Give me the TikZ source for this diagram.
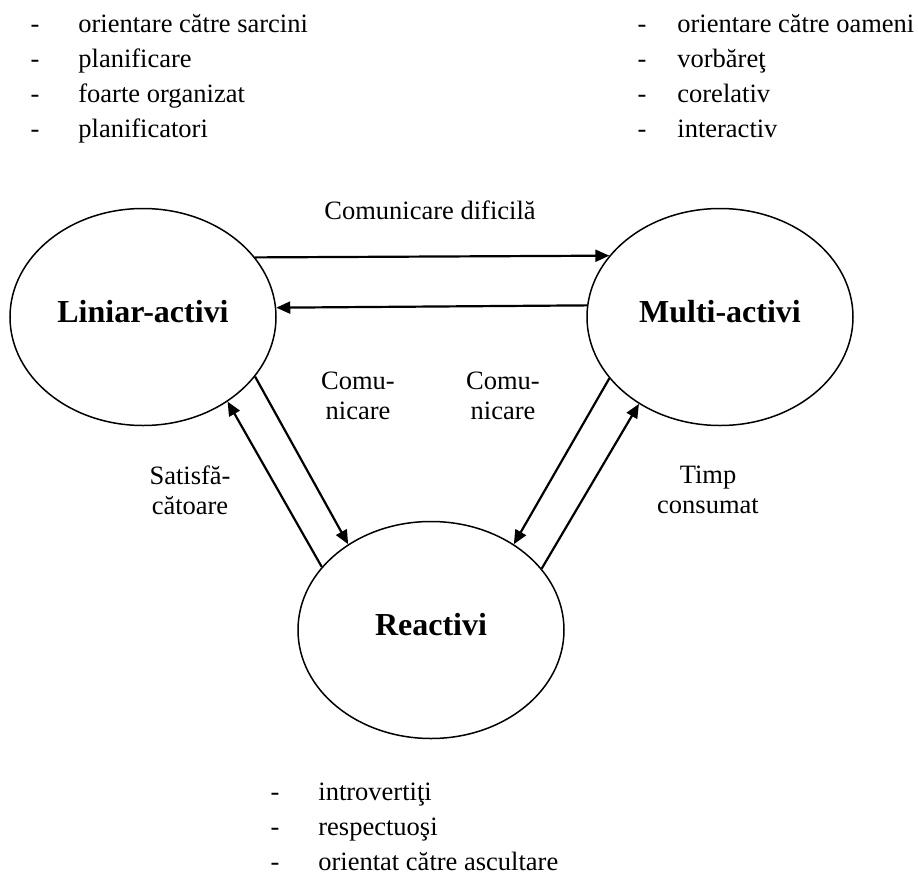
\documentclass[tikz,border=0pt]{standalone}
\usepackage{fontspec}
\setmainfont{Liberation Serif}
\usetikzlibrary{shapes.geometric,arrows.meta}

\tikzset{
	grup/.style={ellipse,draw,line width=0.75pt,minimum width=133pt,minimum height=108.5pt,inner sep=0pt,text height=11pt,text depth=6pt,font=\bfseries\fontsize{16}{19}\selectfont},
	sageata/.style={-{Triangle[length=7pt,width=6pt]},line width=1.1pt},
	eticheta/.style={align=center,font=\fontsize{13.25}{15}\selectfont},
	liniuta/.style={anchor=base,inner sep=0pt,font=\fontsize{13.25}{15}\selectfont},
	trasatura/.style={anchor=base west,inner sep=0pt,font=\fontsize{13.25}{15}\selectfont}
}

\begin{document}
\begin{tikzpicture}[x=0.5pt,y=-0.5pt]
					\useasboundingbox (0,0) rectangle (918,874);
					% cele trei grupuri
					\node[grup] (la) at (143,317) {Liniar-activi};
					\node[grup] (ma) at (720,317) {Multi-activi};
					\node[grup] (re) at (431,630) {Reactivi};
					% trasaturi
					\foreach \t [count=\i] in {orientare către sarcini,planificare,foarte organizat,planificatori}
					\node[liniuta] (dl\i) at (35,{-3+35*\i}) {-} node[trasatura] (tl\i) at (78,{-3+35*\i}) {\t};
					\foreach \t [count=\i] in {orientare către oameni,vorbăreţ,corelativ,interactiv}
					\node[liniuta] (dm\i) at (642,{-3+35*\i}) {-} node[trasatura] (tm\i) at (677,{-3+35*\i}) {\t};
					\foreach \t [count=\i] in {introvertiţi,respectuoşi,orientat către ascultare}
					\node[liniuta] (dr\i) at (275,{765+35*\i}) {-} node[trasatura] (tr\i) at (318,{765+35*\i}) {\t};
					% legaturi
					\draw[sageata] (la.28.4) -- (ma.151.8);
					\draw[sageata] (ma.175.2) -- (la.4.8);
					\draw[sageata] (la.-28.8) -- (re.134.7);
					\draw[sageata] (re.150.1) -- (la.-45.3);
					\draw[sageata] (ma.-151) -- (re.46);
					\draw[sageata] (re.29.6) -- (ma.-133.4);
					\node[eticheta,anchor=base] (cd) at (430,219) {Comunicare dificilă};
					\node[eticheta] (c1) at (358,396) {Comu-\\nicare};
					\node[eticheta] (c2) at (503,396) {Comu-\\nicare};
					\node[eticheta] (sa) at (190,490) {Satisfă-\\cătoare};
					\node[eticheta] (tc) at (708,490) {Timp\\consumat};
				\end{tikzpicture}
\end{document}
